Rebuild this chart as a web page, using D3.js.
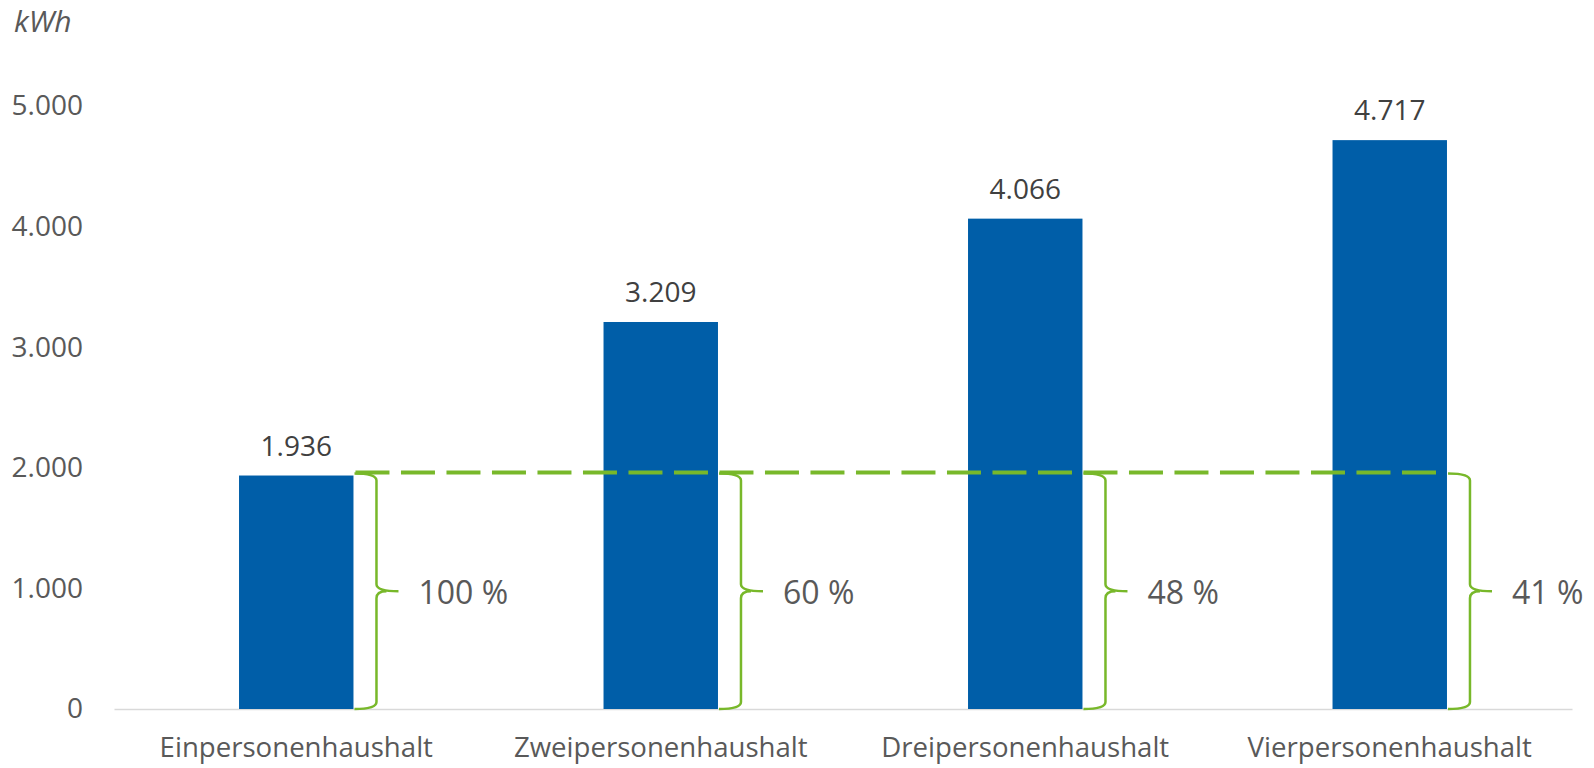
<!DOCTYPE html>
<html>
<head>
<meta charset="utf-8">
<script src="https://cdn.jsdelivr.net/npm/d3@7"></script>
<style>
  html, body { margin: 0; padding: 0; background: #fff; }
  svg { display: block; font-family: "Open Sans", sans-serif; }
</style>
</head>
<body>
<svg id="viz"></svg>
<script>

/* Data */

const categories = ["Einpersonenhaushalt", "Zweipersonenhaushalt", "Dreipersonenhaushalt", "Vierpersonenhaushalt"];
const values = [1936, 3209, 4066, 4717];
const shares = [100, 60, 48, 41];
const yTicks = [0, 1000, 2000, 3000, 4000, 5000];
const unitLabel = "kWh";

/* Environment */

let width = 1594;
let height = 768;

let margin = {top: 106, right: 22, bottom: 59, left: 114};

const blue = "#005ea8";
const green = "#78b82a";

const de = d3.formatLocale({decimal: ",", thousands: ".", grouping: [3], currency: ["", " €"]});
const fmt = de.format(",d");

/* SVG */

const svg = d3.select('#viz')
    .attr('width', width)
    .attr('height', height);

/* Scales */

let x = d3.scaleBand()
    .domain(categories)
    .range([margin.left, width - margin.right])
    .paddingInner(0.686)
    .paddingOuter(0.343);

let y = d3.scaleLinear()
    .domain([0, 5000])
    .range([height - margin.bottom, margin.top]);

/* Axis */

const gYAxis = svg.append("g")
    .attr("transform", `translate(${margin.left},0)`)
    .call(d3.axisLeft(y).tickValues(yTicks).tickFormat(fmt).tickSize(0).tickPadding(31))
    .call(g => g.select(".domain").remove());

gYAxis.selectAll("text")
    .attr("fill", "#595959")
    .attr("font-size", 28)
    .attr("font-family", "Open Sans, sans-serif");

const gXAxis = svg.append("g")
    .attr("transform", `translate(0,${y(0)})`)
    .call(d3.axisBottom(x).tickSize(0).tickPadding(28))
    .call(g => g.select(".domain").attr("stroke", "#d9d9d9").attr("stroke-width", 1.5));

gXAxis.selectAll("text")
    .attr("fill", "#595959")
    .attr("font-size", 27.6)
    .attr("font-family", "Open Sans, sans-serif");

svg.append("text")
    .attr("x", 14)
    .attr("y", 32)
    .attr("font-size", 30)
    .attr("font-style", "italic")
    .attr("fill", "#595959")
    .text(unitLabel);

/* Bars */

svg.append("g")
  .selectAll("rect")
  .data(values)
  .join("rect")
    .attr("x", (d, i) => x(categories[i]))
    .attr("y", d => y(d))
    .attr("width", x.bandwidth())
    .attr("height", d => y(0) - y(d))
    .attr("fill", blue);

svg.append("g")
  .selectAll("text")
  .data(values)
  .join("text")
    .attr("x", (d, i) => x(categories[i]) + x.bandwidth() / 2)
    .attr("y", d => y(d) - 20)
    .attr("text-anchor", "middle")
    .attr("font-size", 28)
    .attr("fill", "#404040")
    .text(d => fmt(d));

/* Reference line */

const ref = values[0];

svg.append("line")
    .attr("x1", x(categories[0]) + x.bandwidth() + 2)
    .attr("x2", x(categories[3]) + x.bandwidth() - 4)
    .attr("y1", y(ref) - 3)
    .attr("y2", y(ref) - 3)
    .attr("stroke", green)
    .attr("stroke-width", 4)
    .attr("stroke-dasharray", "34,11.5");

/* Braces */

function brace(i) {
  let x0 = x(categories[i]) + x.bandwidth() + 1;
  let xv = x0 + 22;
  let xt = x0 + 44;
  let yT = y(ref) - 2;
  let yB = y(0);
  let yM = (yT + yB) / 2;
  let p = d3.path();
  p.moveTo(x0, yT);
  p.quadraticCurveTo(xv, yT, xv, yT + 7);
  p.lineTo(xv, yM - 7);
  p.quadraticCurveTo(xv, yM, xt, yM);
  p.moveTo(xv + 10, yM);
  p.quadraticCurveTo(xv, yM, xv, yM + 7);
  p.lineTo(xv, yB - 7);
  p.quadraticCurveTo(xv, yB, x0, yB);
  return p.toString();
}

svg.append("g")
  .selectAll("path")
  .data(shares)
  .join("path")
    .attr("d", (d, i) => brace(i))
    .attr("fill", "none")
    .attr("stroke", green)
    .attr("stroke-width", 2.5);

svg.append("g")
  .selectAll("text")
  .data(shares)
  .join("text")
    .attr("x", (d, i) => x(categories[i]) + x.bandwidth() + 65)
    .attr("y", (y(ref) + y(0)) / 2 + 12)
    .attr("font-size", 32)
    .attr("fill", "#595959")
    .text(d => d + " %");

</script>
</body>
</html>
